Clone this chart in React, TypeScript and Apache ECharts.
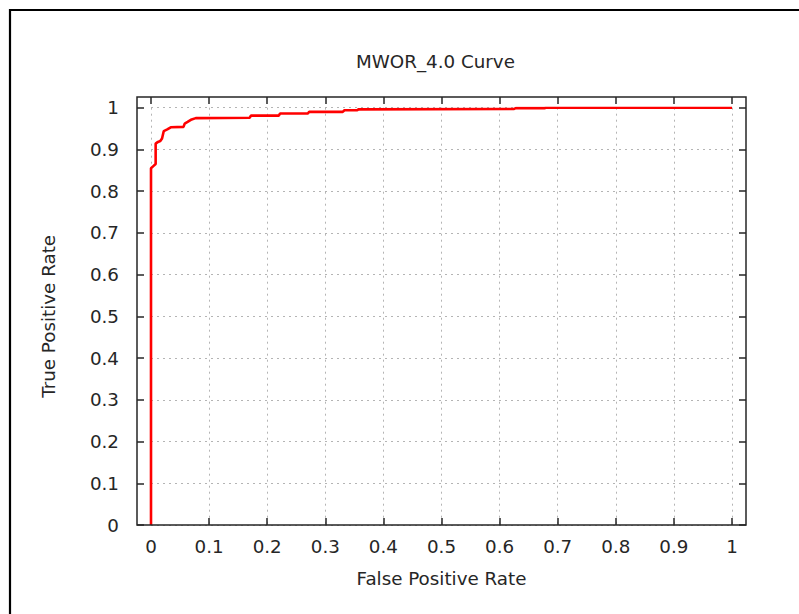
import React, { useEffect, useRef } from "react";
import * as echarts from "echarts";

const fprValues = [0, 0, 0.004, 0.008, 0.008, 0.012, 0.016, 0.019, 0.022, 0.028, 0.034, 0.056, 0.058, 0.063, 0.07, 0.077, 0.17, 0.172, 0.22, 0.222, 0.27, 0.272, 0.33, 0.333, 0.355, 0.357, 0.625, 0.628, 0.677, 0.68, 1];
const tprValues = [0, 0.855, 0.86, 0.865, 0.914, 0.918, 0.92, 0.926, 0.944, 0.948, 0.953, 0.954, 0.962, 0.966, 0.972, 0.975, 0.976, 0.981, 0.981, 0.986, 0.986, 0.99, 0.99, 0.994, 0.994, 0.996, 0.997, 0.999, 0.999, 1.0, 1.0];

const titleText = "MWOR_4.0 Curve";
const xName = "False Positive Rate";
const yName = "True Positive Rate";

const FONT = "DejaVu Sans";
const FS = 18.3;
const TXT = "#262626";
const AX = "#262626";

export default function App() {
  const ref = useRef<HTMLDivElement>(null);
  useEffect(() => {
    if (!ref.current) return;
    const chart = echarts.init(ref.current, null, { renderer: "svg" });
    const data = fprValues.map((x, i) => [x, tprValues[i]]);
    const split = { show: true, lineStyle: { color: "#b4b4b4", type: [2, 4], width: 1 } };
    const tick = { show: true, inside: true, length: 7, lineStyle: { color: AX, width: 1.5 } };
    const noLine = { show: false, onZero: false };
    chart.setOption({
      animation: false,
      backgroundColor: "#ffffff",
      title: {
        text: titleText,
        left: 356,
        top: 52,
        padding: 0,
        textStyle: { fontFamily: FONT, fontSize: FS, fontWeight: "normal", color: TXT },
      },
      grid: { left: 151, top: 107.7, width: 581, height: 417.3 },
      xAxis: [
        {
          type: "value", min: 0, max: 1, interval: 0.1, position: "bottom",
          axisLine: noLine, axisTick: tick, splitLine: split,
          axisLabel: { margin: 12, fontFamily: FONT, fontSize: FS, color: TXT, formatter: (v: number) => String(+v.toFixed(1)) },
          name: xName, nameLocation: "middle", nameGap: 44,
          nameTextStyle: { fontFamily: FONT, fontSize: FS, color: TXT },
        },
        {
          type: "value", min: 0, max: 1, interval: 0.1, position: "top", offset: 10.7,
          axisLine: noLine, axisTick: tick, splitLine: { show: false }, axisLabel: { show: false },
        },
      ],
      yAxis: [
        {
          type: "value", min: 0, max: 1, interval: 0.1, position: "left", offset: 14,
          axisLine: noLine, axisTick: tick, splitLine: split,
          axisLabel: { margin: 18, fontFamily: FONT, fontSize: FS, color: TXT, formatter: (v: number) => String(+v.toFixed(1)) },
          name: yName, nameLocation: "middle", nameGap: 80,
          nameTextStyle: { fontFamily: FONT, fontSize: FS, color: TXT },
        },
        {
          type: "value", min: 0, max: 1, interval: 0.1, position: "right", offset: 14,
          axisLine: noLine, axisTick: tick, splitLine: { show: false }, axisLabel: { show: false },
        },
      ],
      graphic: [
        { type: "rect", shape: { x: 137, y: 97, width: 609, height: 428 }, style: { fill: "none", stroke: AX, lineWidth: 1.5 }, z: 100 },
        { type: "polyline", shape: { points: [[10, 614], [10, 10], [799, 10]] }, style: { fill: "none", stroke: "#000", lineWidth: 2.2 }, z: 100 },
      ],
      series: [
        {
          type: "line",
          data,
          showSymbol: false,
          lineStyle: { color: "#ff0000", width: 2.6 },
          itemStyle: { color: "#ff0000" },
        },
      ],
    });
    return () => chart.dispose();
  }, []);
  return <div ref={ref} style={{ position: "fixed", left: 0, top: 0, width: 799, height: 614 }} />;
}
